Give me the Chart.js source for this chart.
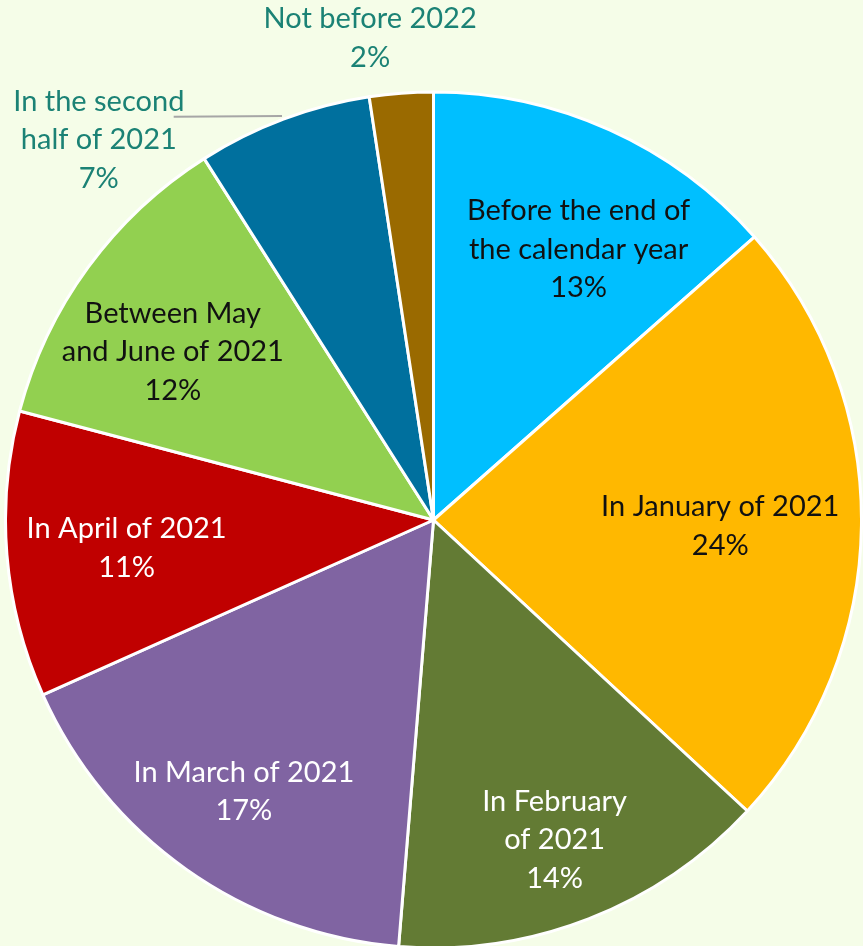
<!DOCTYPE html>
<html><head><meta charset="utf-8">
<script src="https://cdn.jsdelivr.net/npm/chart.js@4"></script>
<style>
html,body{margin:0;padding:0;background:#F5FDE8;overflow:hidden;}
#wrap{width:863px;height:946px;position:relative;overflow:hidden;}
</style></head>
<body><div id="wrap"><canvas id="c" width="863" height="950"></canvas></div>
<script>
const categories = ["Before the end of the calendar year","In January of 2021","In February of 2021","In March of 2021","In April of 2021","Between May and June of 2021","In the second half of 2021","Not before 2022"];
const shares = [13.5, 23.4, 14.4, 17.0, 10.8, 11.9, 6.6, 2.4];
const percentLabels = ["13%","24%","14%","17%","11%","12%","7%","2%"];
const labelLines = [["Before the end of","the calendar year"],["In January of 2021"],["In February","of 2021"],["In March of 2021"],["In April of 2021"],["Between May","and June of 2021"],["In the second","half of 2021"],["Not before 2022"]];
const colors = ["#00BFFF","#FFB800","#637B34","#8064A2","#C00000","#92D050","#00709E","#9A6A00"];
const textColors = ["#111","#111","#fff","#fff","#fff","#111","#1B8275","#1B8275"];
// label anchor positions as fractions of radius from the pie centre
const labelPos = [[0.339,-0.632],[0.670,0.014],[0.283,0.747],[-0.443,0.635],[-0.717,0.066],[-0.609,-0.393],[-0.782,-0.888],[-0.148,-1.126]];

const labelPlugin = {
  id:'labels',
  afterDatasetsDraw(chart){
    const ctx = chart.ctx;
    const meta = chart.getDatasetMeta(0);
    const a0 = meta.data[0];
    const cx = a0.x, cy = a0.y, R = a0.outerRadius;
    ctx.save();
    ctx.strokeStyle = '#A6A6A6'; ctx.lineWidth = 2;
    ctx.beginPath();
    ctx.moveTo(cx - 0.607*R, cy - 0.942*R);
    ctx.lineTo(cx - 0.354*R, cy - 0.944*R);
    ctx.stroke();
    ctx.font = '29px Lato, "Open Sans", sans-serif';
    ctx.textAlign = 'center'; ctx.textBaseline = 'middle';
    const lh = 38.5;
    labelLines.forEach((lines,i)=>{
      const all = lines.concat([percentLabels[i]]);
      const x = cx + labelPos[i][0]*R, y = cy + labelPos[i][1]*R;
      ctx.fillStyle = textColors[i];
      const y0 = y - (all.length-1)*lh/2;
      all.forEach((t,k)=>ctx.fillText(t, x, y0 + k*lh));
    });
    ctx.restore();
  }
};

new Chart(document.getElementById('c'),{
  type:'pie',
  data:{labels:categories,datasets:[{data:shares,backgroundColor:colors,borderColor:'#ffffff',borderWidth:3}]},
  options:{
    responsive:false,animation:false,
    layout:{padding:{top:90,left:4,right:0,bottom:0}},
    plugins:{legend:{display:false},tooltip:{enabled:false}}
  },
  plugins:[labelPlugin]
});
</script></body></html>
